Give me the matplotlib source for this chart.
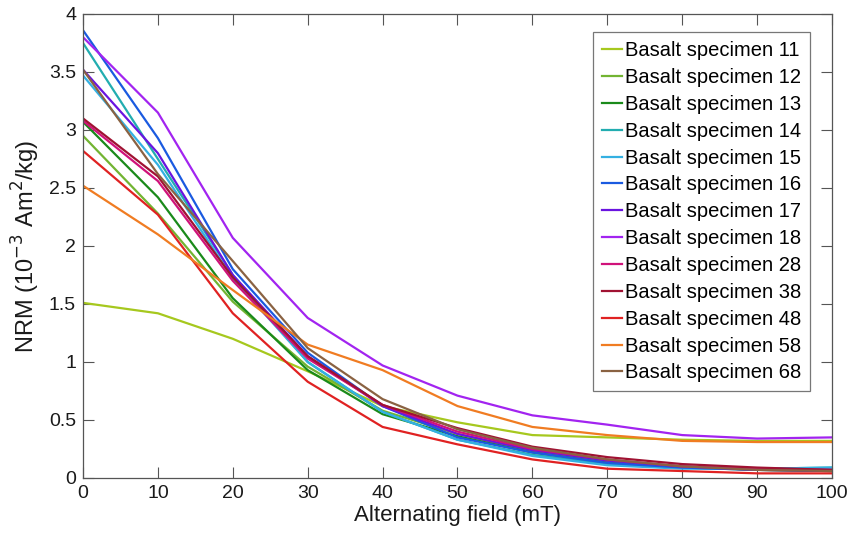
import matplotlib
matplotlib.use("Agg")
import matplotlib.pyplot as plt

plt.rcParams['font.family'] = ['Liberation Sans', 'DejaVu Sans']

field = [0, 10, 20, 30, 40, 50, 60, 70, 80, 90, 100]

labels = ["Basalt specimen 11", "Basalt specimen 12", "Basalt specimen 13",
          "Basalt specimen 14", "Basalt specimen 15", "Basalt specimen 16",
          "Basalt specimen 17", "Basalt specimen 18", "Basalt specimen 28",
          "Basalt specimen 38", "Basalt specimen 48", "Basalt specimen 58",
          "Basalt specimen 68"]

s11 = [1.51, 1.42, 1.20, 0.92, 0.62, 0.48, 0.37, 0.35, 0.33, 0.32, 0.32]
s12 = [2.95, 2.28, 1.52, 0.96, 0.58, 0.38, 0.23, 0.14, 0.10, 0.07, 0.06]
s13 = [3.07, 2.42, 1.55, 0.93, 0.55, 0.36, 0.22, 0.13, 0.09, 0.07, 0.06]
s14 = [3.75, 2.75, 1.75, 1.00, 0.57, 0.33, 0.20, 0.12, 0.09, 0.08, 0.09]
s15 = [3.47, 2.70, 1.72, 1.00, 0.57, 0.33, 0.19, 0.11, 0.08, 0.08, 0.09]
s16 = [3.86, 2.93, 1.80, 1.08, 0.62, 0.35, 0.22, 0.13, 0.09, 0.07, 0.07]
s17 = [3.52, 2.80, 1.75, 1.05, 0.62, 0.38, 0.24, 0.15, 0.10, 0.07, 0.06]
s18 = [3.80, 3.15, 2.07, 1.38, 0.97, 0.71, 0.54, 0.46, 0.37, 0.34, 0.35]
s28 = [3.08, 2.56, 1.70, 1.03, 0.63, 0.40, 0.25, 0.16, 0.10, 0.08, 0.07]
s38 = [3.10, 2.60, 1.73, 1.05, 0.63, 0.43, 0.27, 0.18, 0.12, 0.09, 0.07]
s48 = [2.82, 2.27, 1.42, 0.83, 0.44, 0.29, 0.16, 0.08, 0.06, 0.04, 0.04]
s58 = [2.52, 2.10, 1.62, 1.15, 0.93, 0.62, 0.44, 0.37, 0.32, 0.31, 0.31]
s68 = [3.52, 2.62, 1.87, 1.12, 0.68, 0.42, 0.26, 0.16, 0.10, 0.07, 0.06]

series = [s11, s12, s13, s14, s15, s16, s17, s18, s28, s38, s48, s58, s68]
colors = ["#a6c81e", "#72b432", "#1a8a1a", "#22adb0", "#34b0e2", "#1a5ae0",
          "#6a14e0", "#a224f0", "#d0127a", "#a01232", "#e02222", "#f07c22",
          "#8a6242"]

fig = plt.figure(figsize=(8.54, 5.36), dpi=100)
ax = fig.add_axes([83/854, 58/536, (832-83)/854, (478-14)/536])

for vals, lab, c in zip(series, labels, colors):
    ax.plot(field, vals, color=c, lw=1.6, label=lab)

ax.set_xlim(0, 100)
ax.set_ylim(0, 4)
ax.set_xticks(range(0, 101, 10))
ax.set_yticks([0, 0.5, 1, 1.5, 2, 2.5, 3, 3.5, 4])
ax.set_yticklabels(["0", "0.5", "1", "1.5", "2", "2.5", "3", "3.5", "4"])
ax.tick_params(direction='in', length=8, width=0.8, top=True, right=True,
               labelsize=14, color='#555555', labelcolor='#1a1a1a', pad=5)
for sp in ax.spines.values():
    sp.set_color('#555555')
    sp.set_linewidth(0.9)

ax.set_xlabel("Alternating field (mT)", fontsize=16, color='#1a1a1a', labelpad=2)
ax.set_ylabel("NRM (10$^{-3}$ Am$^2$/kg)", fontsize=17, color='#1a1a1a', labelpad=5)

leg = ax.legend(loc='upper right', bbox_to_anchor=(0.9706, 0.961), fontsize=14.5,
                frameon=True, fancybox=False, edgecolor='#555555',
                handlelength=1.0, handletextpad=0.12, labelspacing=0.39,
                borderpad=0.45, borderaxespad=0)
leg.get_frame().set_linewidth(0.9)

fig.savefig("out.png", dpi=100)
